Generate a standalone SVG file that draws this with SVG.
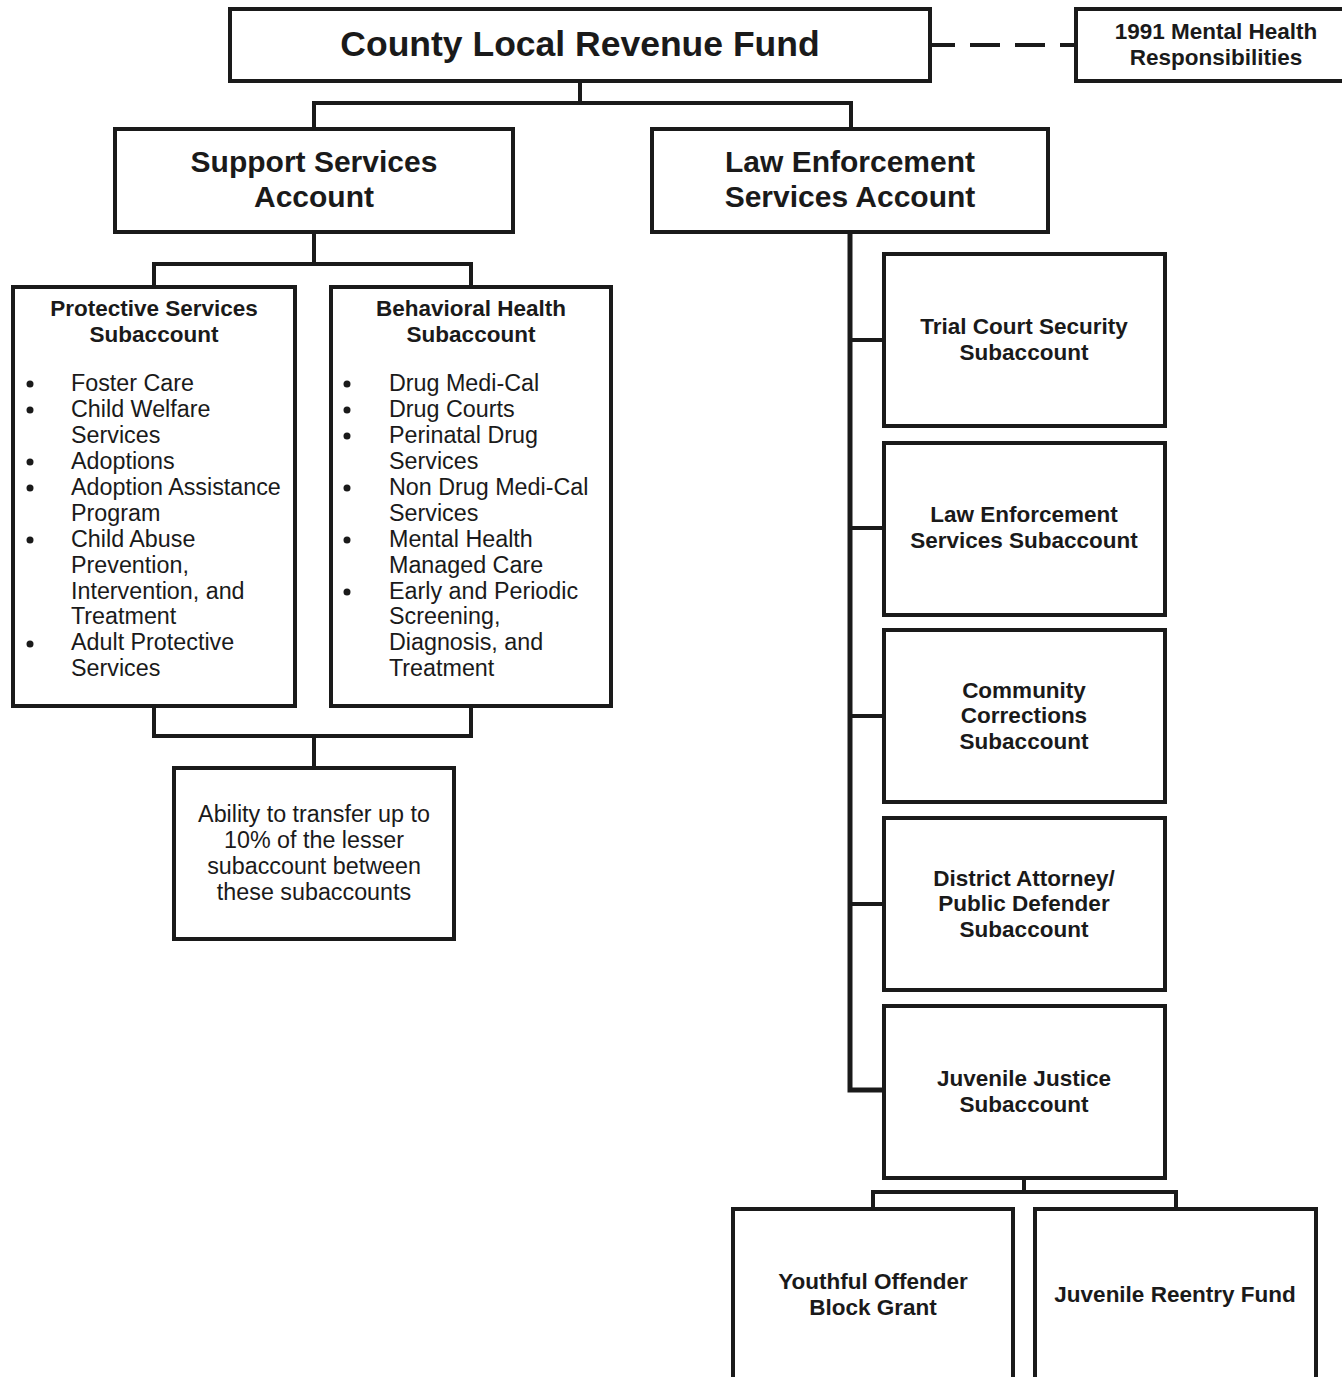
<svg xmlns="http://www.w3.org/2000/svg" width="1342" height="1377" viewBox="0 0 1342 1377">
<style>
.box{fill:#fff;stroke:#1a1a1a;stroke-width:4}
.ln{fill:none;stroke:#1a1a1a;stroke-width:4}
text{font-family:"Liberation Sans",Arial,sans-serif;fill:#1a1a1a}
.b{font-weight:bold}
.c{text-anchor:middle}
.t1{font-size:35.5px}
.t2{font-size:30px}
.t3{font-size:22.5px}
.r{font-size:23.3px}
</style>
<rect x="0" y="0" width="1342" height="1377" fill="#fff"/>
<g id="connectors">
<line class="ln" x1="930" y1="45" x2="1076" y2="45" stroke-dasharray="30,15" stroke-dashoffset="5"/>
<polyline class="ln" points="580,81 580,103"/>
<polyline class="ln" points="314,129 314,103 851,103 851,129"/>
<polyline class="ln" points="314,232 314,264"/>
<polyline class="ln" points="154,287 154,264 471,264 471,287"/>
<polyline class="ln" points="154,706 154,736 471,736 471,706"/>
<polyline class="ln" points="314,736 314,768"/>
<polyline class="ln" style="stroke-width:5" points="850,232 850,1090 884,1090"/>
<line class="ln" x1="850" y1="340" x2="884" y2="340"/>
<line class="ln" x1="850" y1="528" x2="884" y2="528"/>
<line class="ln" x1="850" y1="716" x2="884" y2="716"/>
<line class="ln" x1="850" y1="904" x2="884" y2="904"/>
<polyline class="ln" points="1024,1178 1024,1192"/>
<polyline class="ln" points="873,1209 873,1192 1176,1192 1176,1209"/>
</g>
<g id="county">
<rect class="box" x="230" y="9" width="700" height="72"/>
<text class="b c t1" x="580" y="56">County Local Revenue Fund</text>
</g>
<g id="mh1991">
<rect class="box" x="1076" y="9" width="275" height="72"/>
<text class="b c t3" x="1216" y="39">1991 Mental Health</text>
<text class="b c t3" x="1216" y="65">Responsibilities</text>
</g>
<g id="support">
<rect class="box" x="115" y="129" width="398" height="103"/>
<text class="b c t2" x="314" y="172">Support Services</text>
<text class="b c t2" x="314" y="207">Account</text>
</g>
<g id="lawacct">
<rect class="box" x="652" y="129" width="396" height="103"/>
<text class="b c t2" x="850" y="172">Law Enforcement</text>
<text class="b c t2" x="850" y="207">Services Account</text>
</g>
<g id="protective">
<rect class="box" x="13" y="287" width="282" height="419"/>
<text class="b c t3" x="154" y="316">Protective Services</text>
<text class="b c t3" x="154" y="342">Subaccount</text>
<circle cx="30" cy="384" r="3.5" fill="#1a1a1a"/>
<circle cx="30" cy="410" r="3.5" fill="#1a1a1a"/>
<circle cx="30" cy="462" r="3.5" fill="#1a1a1a"/>
<circle cx="30" cy="488" r="3.5" fill="#1a1a1a"/>
<circle cx="30" cy="540" r="3.5" fill="#1a1a1a"/>
<circle cx="30" cy="644" r="3.5" fill="#1a1a1a"/>
<text class="r" x="71" y="391">Foster Care</text>
<text class="r" x="71" y="417">Child Welfare</text>
<text class="r" x="71" y="443">Services</text>
<text class="r" x="71" y="469">Adoptions</text>
<text class="r" x="71" y="495">Adoption Assistance</text>
<text class="r" x="71" y="521">Program</text>
<text class="r" x="71" y="547">Child Abuse</text>
<text class="r" x="71" y="573">Prevention,</text>
<text class="r" x="71" y="599">Intervention, and</text>
<text class="r" x="71" y="624">Treatment</text>
<text class="r" x="71" y="650">Adult Protective</text>
<text class="r" x="71" y="676">Services</text>
</g>
<g id="behavioral">
<rect class="box" x="331" y="287" width="280" height="419"/>
<text class="b c t3" x="471" y="316">Behavioral Health</text>
<text class="b c t3" x="471" y="342">Subaccount</text>
<circle cx="347" cy="384" r="3.5" fill="#1a1a1a"/>
<circle cx="347" cy="410" r="3.5" fill="#1a1a1a"/>
<circle cx="347" cy="436" r="3.5" fill="#1a1a1a"/>
<circle cx="347" cy="488" r="3.5" fill="#1a1a1a"/>
<circle cx="347" cy="540" r="3.5" fill="#1a1a1a"/>
<circle cx="347" cy="592" r="3.5" fill="#1a1a1a"/>
<text class="r" x="389" y="391">Drug Medi-Cal</text>
<text class="r" x="389" y="417">Drug Courts</text>
<text class="r" x="389" y="443">Perinatal Drug</text>
<text class="r" x="389" y="469">Services</text>
<text class="r" x="389" y="495">Non Drug Medi-Cal</text>
<text class="r" x="389" y="521">Services</text>
<text class="r" x="389" y="547">Mental Health</text>
<text class="r" x="389" y="573">Managed Care</text>
<text class="r" x="389" y="599">Early and Periodic</text>
<text class="r" x="389" y="624">Screening,</text>
<text class="r" x="389" y="650">Diagnosis, and</text>
<text class="r" x="389" y="676">Treatment</text>
</g>
<g id="transfer">
<rect class="box" x="174" y="768" width="280" height="171"/>
<text class="r c" x="314" y="822">Ability to transfer up to</text>
<text class="r c" x="314" y="848">10% of the lesser</text>
<text class="r c" x="314" y="874">subaccount between</text>
<text class="r c" x="314" y="900">these subaccounts</text>
</g>
<g id="trialcourt">
<rect class="box" x="884" y="254" width="281" height="172"/>
<text class="b c t3" x="1024" y="334">Trial Court Security</text>
<text class="b c t3" x="1024" y="360">Subaccount</text>
</g>
<g id="lawsub">
<rect class="box" x="884" y="443" width="281" height="172"/>
<text class="b c t3" x="1024" y="522">Law Enforcement</text>
<text class="b c t3" x="1024" y="548">Services Subaccount</text>
</g>
<g id="community">
<rect class="box" x="884" y="630" width="281" height="172"/>
<text class="b c t3" x="1024" y="698">Community</text>
<text class="b c t3" x="1024" y="723">Corrections</text>
<text class="b c t3" x="1024" y="749">Subaccount</text>
</g>
<g id="da">
<rect class="box" x="884" y="818" width="281" height="172"/>
<text class="b c t3" x="1024" y="886">District Attorney/</text>
<text class="b c t3" x="1024" y="911">Public Defender</text>
<text class="b c t3" x="1024" y="937">Subaccount</text>
</g>
<g id="juvenile">
<rect class="box" x="884" y="1006" width="281" height="172"/>
<text class="b c t3" x="1024" y="1086">Juvenile Justice</text>
<text class="b c t3" x="1024" y="1112">Subaccount</text>
</g>
<g id="youthful">
<rect class="box" x="733" y="1209" width="280" height="180"/>
<text class="b c t3" x="873" y="1289">Youthful Offender</text>
<text class="b c t3" x="873" y="1315">Block Grant</text>
</g>
<g id="reentry">
<rect class="box" x="1035" y="1209" width="281" height="180"/>
<text class="b c t3" x="1175" y="1302">Juvenile Reentry Fund</text>
</g>
</svg>
